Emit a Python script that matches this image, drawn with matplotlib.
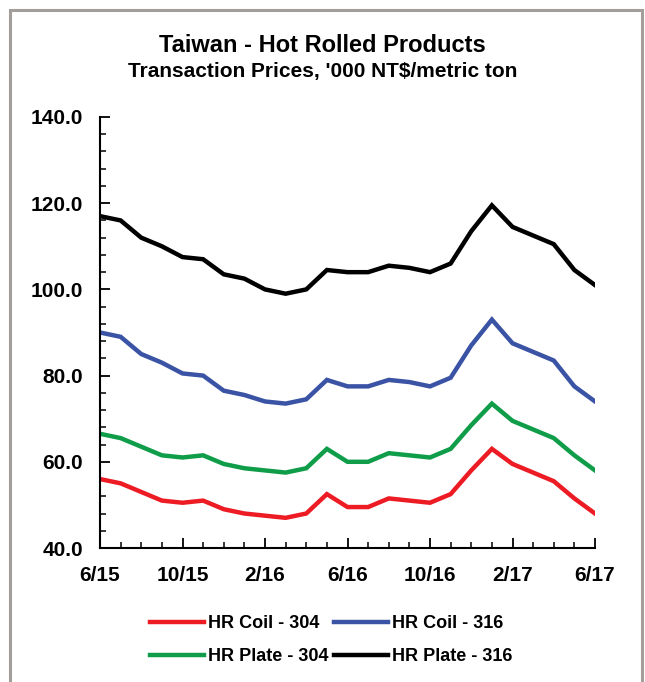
import matplotlib.pyplot as plt
from matplotlib.patches import Rectangle
from matplotlib.ticker import MultipleLocator

plt.rcParams["font.family"] = ["Liberation Sans", "DejaVu Sans"]

# monthly, 6/15 .. 6/17
months = ["6/15", "7/15", "8/15", "9/15", "10/15", "11/15", "12/15", "1/16",
          "2/16", "3/16", "4/16", "5/16", "6/16", "7/16", "8/16", "9/16",
          "10/16", "11/16", "12/16", "1/17", "2/17", "3/17", "4/17", "5/17", "6/17"]
tick_labels = ["6/15", "10/15", "2/16", "6/16", "10/16", "2/17", "6/17"]

coil_304 = [56, 55, 53, 51, 50.5, 51, 49, 48, 47.5, 47, 48, 52.5, 49.5,
            49.5, 51.5, 51, 50.5, 52.5, 58, 63, 59.5, 57.5, 55.5, 51.5, 48]
coil_316 = [90, 89, 85, 83, 80.5, 80, 76.5, 75.5, 74, 73.5, 74.5, 79, 77.5,
            77.5, 79, 78.5, 77.5, 79.5, 87, 93, 87.5, 85.5, 83.5, 77.5, 74]
plate_304 = [66.5, 65.5, 63.5, 61.5, 61, 61.5, 59.5, 58.5, 58, 57.5, 58.5, 63, 60,
             60, 62, 61.5, 61, 63, 68.5, 73.5, 69.5, 67.5, 65.5, 61.5, 58]
plate_316 = [117, 116, 112, 110, 107.5, 107, 103.5, 102.5, 100, 99, 100, 104.5, 104,
             104, 105.5, 105, 104, 106, 113.5, 119.5, 114.5, 112.5, 110.5, 104.5, 101]

series = [
    ("HR Coil - 304", coil_304, "#ED1C24"),
    ("HR Coil - 316", coil_316, "#3A53A4"),
    ("HR Plate - 304", plate_304, "#0F9D49"),
    ("HR Plate - 316", plate_316, "#000000"),
]

fig = plt.figure(figsize=(6.45, 6.82), dpi=100)
ax = fig.add_axes([100 / 645, 1 - 548 / 682, 495 / 645, 431 / 682])

x = list(range(len(months)))
handles = {}
for name, vals, color in series:
    handles[name], = ax.plot(x, vals, color=color, lw=3.2, label=name,
                             solid_joinstyle="miter")

ax.set_xlim(0, len(months) - 1)
ax.set_ylim(40, 140)
ax.set_xticks(x[::4])
ax.set_xticklabels(tick_labels)
ax.xaxis.set_minor_locator(MultipleLocator(1))
ax.yaxis.set_major_locator(MultipleLocator(20))
ax.yaxis.set_minor_locator(MultipleLocator(4))
ax.yaxis.set_major_formatter(lambda v, p: f"{v:.1f}")

for s in ("top", "right"):
    ax.spines[s].set_visible(False)
for s in ("left", "bottom"):
    ax.spines[s].set_linewidth(1.5)

ax.tick_params(axis="both", which="major", direction="in", length=7, width=1.3,
               labelsize=15)
ax.tick_params(axis="both", which="minor", direction="in", length=4, width=1.1)
ax.tick_params(axis="x", which="major", pad=13)
ax.tick_params(axis="y", which="major", pad=12)
for lbl in ax.get_xticklabels() + ax.get_yticklabels():
    lbl.set_fontweight("bold")

fig.text(0.5, 1 - 45 / 682, "Taiwan - Hot Rolled Products", ha="center",
         va="center", fontsize=17, fontweight="bold")
fig.text(0.5, 1 - 72 / 682, "Transaction Prices, '000 NT$/metric ton", ha="center",
         va="center", fontsize=15, fontweight="bold")

# row-wise order: coil 304 | coil 316 / plate 304 | plate 316
order = ["HR Coil - 304", "HR Plate - 304", "HR Coil - 316", "HR Plate - 316"]
fig.legend([handles[n] for n in order], order, loc="center",
           bbox_to_anchor=(331 / 645, 1 - 640 / 682), ncol=2,
           frameon=False, prop={"weight": "bold", "size": 13},
           handlelength=3.0, handletextpad=0.2, columnspacing=0.3,
           labelspacing=0.9, borderpad=0)

fig.add_artist(Rectangle((10 / 645, -0.05), 632 / 645, 1.05 - 10 / 682,
                         transform=fig.transFigure, fill=False,
                         edgecolor="#A49E9A", lw=2.2))

fig.savefig("out.png", dpi=100)
